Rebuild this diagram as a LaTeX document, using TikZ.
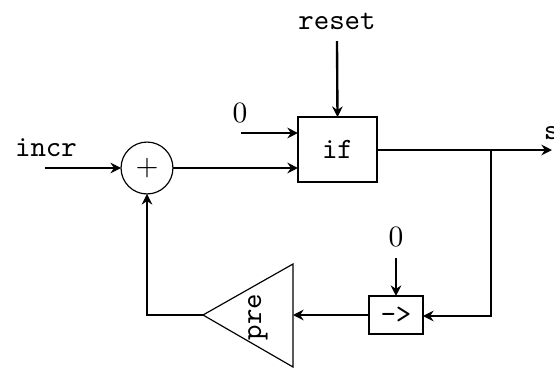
\documentclass[tikz,border=0pt]{standalone}
\usetikzlibrary{arrows.meta}
\begin{document}
\begin{tikzpicture}[x=0.339pt,y=-0.339pt,
  box/.style={draw, line width=0.4pt, inner sep=0pt, outer sep=0pt, font=\ttfamily},
  wire/.style={line width=0.8pt},
  arr/.style={wire, -{Stealth[length=3.6pt,width=3.6pt,inset=1.2pt]}},
  lbl/.style={font=\ttfamily, inner sep=0pt, outer sep=0pt}]
\useasboundingbox (0,0) rectangle (554,368);
\clip (0,0) rectangle (554,368);
% nodes
\node[lbl] (reset) at (337,21) {reset};
\node[box, minimum width=26.8pt, minimum height=22pt] (if) at (337.5,149.5) {if};
\node[inner sep=0pt] (zeroA) at (240,113) {$0$};
\coordinate (zeroAstart) at (241,133);
\node[lbl] (incr) at (46,148) {incr};
\coordinate (incrstart) at (45,168);
\node[draw, circle, line width=0.4pt, minimum size=17.6pt, inner sep=0pt, outer sep=0pt] (sum) at (147,168) {$+$};
\coordinate (branch) at (491,150);
\coordinate (outend) at (552,150);
\node[lbl, anchor=west] (out) at (544,133) {s};
\node[box, minimum width=18.3pt, minimum height=12.9pt] (init) at (396,315) {->};
\node[inner sep=0pt] (zeroB) at (396,237) {$0$};
\coordinate (zeroBstart) at (396,258);
\coordinate (corner) at (491,316);
% triangle pre
\coordinate (apex) at (203,315);
\coordinate (pretop) at (293,264);
\coordinate (prebot) at (293,367);
\coordinate (preright) at (293,315);
\draw[line width=0.4pt] (apex) -- (pretop) -- (prebot) -- cycle;
\node[lbl, rotate=90] (pre) at (258,317) {pre};
\coordinate (loop) at (147,315);
% connectors
\draw[arr] (reset.south |- 0,41) -- (if.north);
\draw[arr] (zeroAstart) -- (zeroAstart -| if.west);
\draw[arr] (incrstart) -- (sum.west);
\draw[arr] (sum.east) -- (sum.east -| if.west);
\draw[arr] (if.east |- outend) -- (outend);
\draw[arr] (branch) -- (corner) -- (init.east |- corner);
\draw[arr] (zeroBstart) -- (init.north);
\draw[arr] (init.west) -- (preright);
\draw[arr] (apex) -- (loop) -- (sum.south);
\end{tikzpicture}
\end{document}
